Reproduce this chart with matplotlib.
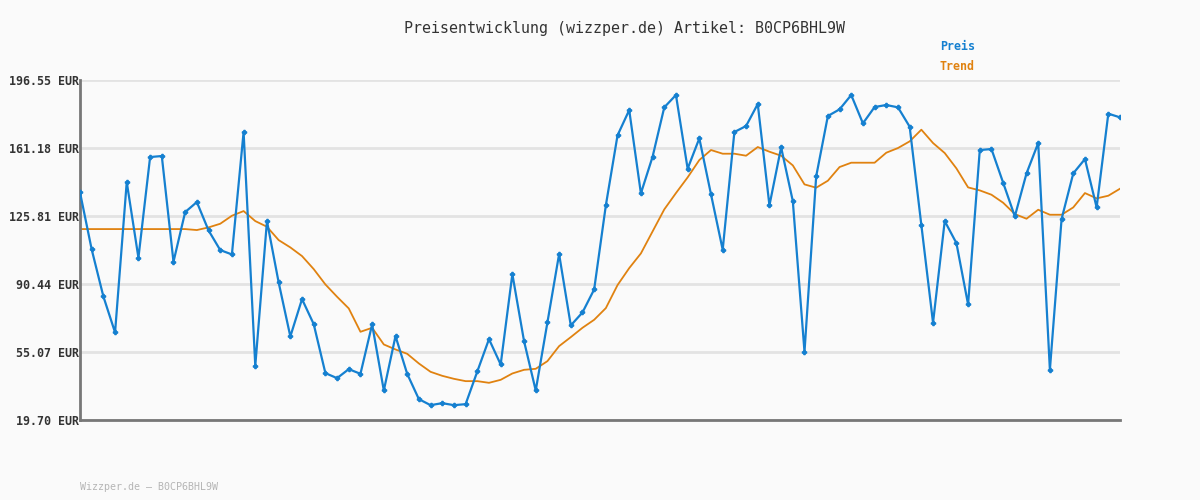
import matplotlib.pyplot as plt
import numpy as np

# price series
preis = [138.09, 108.43, 83.97, 65.23, 143.47, 104.09, 156.48, 157.00, 102.01, 127.86,
         133.06, 118.32, 108.08, 105.82, 169.49, 47.89, 123.17, 91.25, 63.15, 82.58,
         69.57, 44.07, 41.47, 46.15, 43.72, 69.40, 35.05, 63.33, 43.72, 30.54,
         27.42, 28.46, 27.42, 27.94, 44.94, 61.76, 48.58, 95.59, 60.72, 35.05,
         70.44, 106.00, 68.88, 75.64, 87.61, 131.33, 167.75, 180.90, 137.57, 156.65,
         182.33, 188.74, 150.41, 166.19, 137.05, 108.25, 169.49, 172.61, 184.06, 131.33,
         161.51, 133.58, 55.17, 146.42, 177.82, 181.28, 188.74, 174.00, 182.50, 183.54,
         182.33, 172.26, 121.09, 70.26, 123.17, 111.72, 79.81, 160.12, 160.64, 143.12,
         125.60, 147.98, 163.76, 45.80, 124.21, 147.98, 155.44, 130.28, 179.03, 177.12]

# trend line
trend = [119.01, 119.01, 119.01, 119.01, 119.01, 119.01, 119.01, 119.01, 119.01, 119.01,
         118.50, 119.88, 121.78, 125.95, 128.38, 123.17, 120.22, 113.28, 109.47, 104.96,
         98.19, 90.21, 83.79, 77.73, 65.58, 67.66, 58.99, 56.39, 54.13, 49.10,
         44.76, 42.68, 41.12, 39.91, 39.91, 39.04, 40.60, 43.90, 45.80, 46.33,
         50.31, 58.12, 62.80, 67.66, 71.83, 77.90, 89.87, 98.70, 106.35, 117.79,
         129.24, 137.74, 145.90, 154.92, 160.12, 158.21, 158.21, 157.17, 161.68, 159.25,
         157.17, 152.14, 142.25, 140.52, 144.16, 151.27, 153.53, 153.53, 153.53, 158.73,
         161.16, 164.63, 170.70, 163.76, 158.56, 150.58, 140.69, 139.13, 136.88, 132.71,
         126.81, 124.39, 129.07, 126.47, 126.47, 130.28, 137.74, 134.97, 136.36, 140.00]

yticks = [19.70, 55.07, 90.44, 125.81, 161.18, 196.55]
titel = "Preisentwicklung (wizzper.de) Artikel: B0CP6BHL9W"
footer = "Wizzper.de \u2013 B0CP6BHL9W"

blau = '#1580d0'
orange = '#e08210'
mono = 'DejaVu Sans Mono'

fig = plt.figure(figsize=(12, 5), dpi=100, facecolor='#fafafa')
ax = fig.add_axes([80/1200, 0.16, 1040/1200, 0.68], facecolor='#fafafa')

x = np.arange(len(preis))
ax.plot(x, trend, color=orange, lw=1.3, zorder=2)
ax.plot(x, preis, color=blau, lw=1.6, marker='P', markersize=3, zorder=3)

ax.set_xlim(0, len(preis) - 1)
ax.set_ylim(yticks[0], yticks[-1])
ax.set_yticks(yticks)
ax.set_yticklabels(["%.2f EUR" % v for v in yticks], family=mono, fontsize=8.4,
                   fontweight='bold', color='#333333')
ax.set_xticks([])
ax.tick_params(axis='y', length=0, pad=1)
ax.grid(axis='y', color='#e3e3e3', lw=2)
for s in ['top', 'right']:
    ax.spines[s].set_visible(False)
for s in ['left', 'bottom']:
    ax.spines[s].set_color('#777777')
    ax.spines[s].set_linewidth(2)

fig.text(624/1200, 1 - 28/500, titel, ha='center', va='center', family=mono,
         fontsize=10.8, color='#333333')
fig.text(940/1200, 1 - 46/500, "Preis", ha='left', va='center', family=mono,
         fontsize=8.4, fontweight='bold', color=blau)
fig.text(940/1200, 1 - 67/500, "Trend", ha='left', va='center', family=mono,
         fontsize=8.4, fontweight='bold', color=orange)
fig.text(80/1200, 1 - 487/500, footer, ha='left', va='center', family=mono,
         fontsize=7.2, color='#b5b5b5')

fig.savefig('out.png', dpi=100, facecolor=fig.get_facecolor())
